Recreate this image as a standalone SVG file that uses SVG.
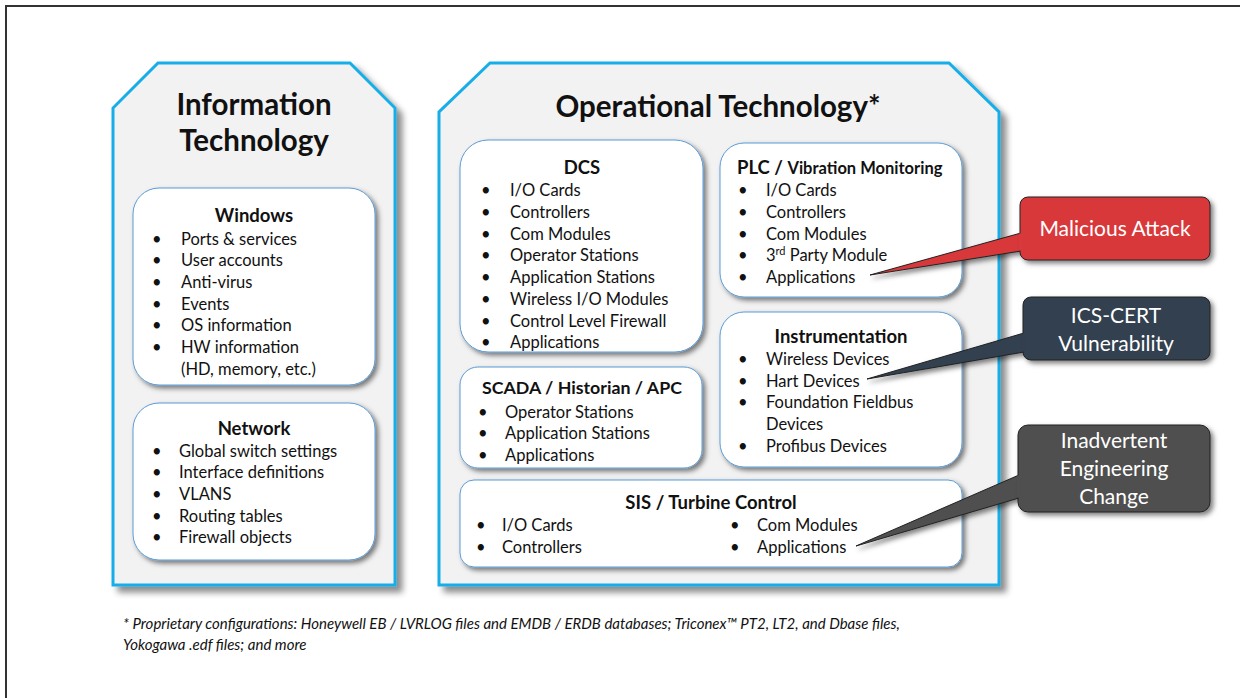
<svg xmlns="http://www.w3.org/2000/svg" width="1240" height="698" viewBox="0 0 1240 698">
<defs>
<style>
text{font-family:Lato,"Open Sans","Liberation Sans",sans-serif;fill:#111}
.ttl{font-size:29.5px;font-weight:bold;text-anchor:middle}
.hd{font-size:18.5px;font-weight:bold;text-anchor:middle}
.it{font-size:16.5px}
.co{font-size:21px;fill:#fff;text-anchor:middle}
.fn{font-size:15px;font-style:italic}
.panel{fill:#f2f2f2;stroke:#19aee9;stroke-width:3}
.box{fill:#fff;stroke:#5b9bd5;stroke-width:1}
.tail{stroke:#222;stroke-width:1}
</style>
<filter id="ps" x="-10%" y="-10%" width="125%" height="125%"><feDropShadow dx="6" dy="6" stdDeviation="3" flood-color="#000" flood-opacity="0.45"/></filter>
<filter id="bs" x="-10%" y="-10%" width="125%" height="130%"><feDropShadow dx="3" dy="3" stdDeviation="2.5" flood-color="#000" flood-opacity="0.5"/></filter>
</defs>
<rect x="6" y="6" width="1250" height="700" fill="#fff" stroke="#333" stroke-width="2"/>

<g id="it-panel">
<polygon class="panel" filter="url(#ps)" points="158,63 350,63 395,108 395,585 113,585 113,108"/>
<text class="ttl" x="254" y="115">Information</text>
<text class="ttl" x="254" y="151">Technology</text>
</g>

<g id="windows">
<rect class="box" filter="url(#bs)" x="133" y="188" width="242" height="197" rx="26"/>
<text class="hd" x="254" y="222">Windows</text>
<g class="it">
<text x="152" y="245">•</text><text x="181" y="245">Ports &amp; services</text>
<text x="152" y="266">•</text><text x="181" y="266">User accounts</text>
<text x="152" y="288">•</text><text x="181" y="288">Anti-virus</text>
<text x="152" y="310">•</text><text x="181" y="310">Events</text>
<text x="152" y="331">•</text><text x="181" y="331">OS information</text>
<text x="152" y="353">•</text><text x="181" y="353">HW information</text>
<text x="181" y="375">(HD, memory, etc.)</text>
</g>
</g>

<g id="network">
<rect class="box" filter="url(#bs)" x="133" y="403" width="242" height="157" rx="26"/>
<text class="hd" x="254" y="435">Network</text>
<g class="it">
<text x="152" y="457">•</text><text x="179" y="457">Global switch settings</text>
<text x="152" y="478">•</text><text x="179" y="478">Interface definitions</text>
<text x="152" y="500">•</text><text x="179" y="500">VLANS</text>
<text x="152" y="522">•</text><text x="179" y="522">Routing tables</text>
<text x="152" y="543">•</text><text x="179" y="543">Firewall objects</text>
</g>
</g>

<g id="ot-panel">
<polygon class="panel" filter="url(#ps)" points="490,63 949,63 999,112 999,585 439,585 439,112"/>
<text class="ttl" x="718" y="117">Operational Technology*</text>
</g>

<g id="dcs">
<rect class="box" filter="url(#bs)" x="460" y="140" width="243" height="212" rx="28"/>
<text class="hd" x="582" y="174">DCS</text>
<g class="it">
<text x="481" y="196">•</text><text x="510" y="196">I/O Cards</text>
<text x="481" y="218">•</text><text x="510" y="218">Controllers</text>
<text x="481" y="240">•</text><text x="510" y="240">Com Modules</text>
<text x="481" y="261">•</text><text x="510" y="261">Operator Stations</text>
<text x="481" y="283">•</text><text x="510" y="283">Application Stations</text>
<text x="481" y="305">•</text><text x="510" y="305">Wireless I/O Modules</text>
<text x="481" y="327">•</text><text x="510" y="327">Control Level Firewall</text>
<text x="481" y="348">•</text><text x="510" y="348">Applications</text>
</g>
</g>

<g id="plc">
<rect class="box" filter="url(#bs)" x="720" y="143" width="242" height="154" rx="24"/>
<text x="737" y="174" style="font-weight:bold;font-size:18.5px">PLC / <tspan style="font-size:16.5px">Vibration Monitoring</tspan></text>
<g class="it">
<text x="738" y="196">•</text><text x="766" y="196">I/O Cards</text>
<text x="738" y="218">•</text><text x="766" y="218">Controllers</text>
<text x="738" y="240">•</text><text x="766" y="240">Com Modules</text>
<text x="738" y="261">•</text><text x="766" y="261">3<tspan dy="-6" style="font-size:11px">rd</tspan><tspan dy="6"> Party Module</tspan></text>
<text x="738" y="283">•</text><text x="766" y="283">Applications</text>
</g>
</g>

<g id="scada">
<rect class="box" filter="url(#bs)" x="460" y="367" width="242" height="101" rx="18"/>
<text class="hd" x="582" y="394" style="font-size:17.8px">SCADA / Historian / APC</text>
<g class="it">
<text x="478" y="418">•</text><text x="505" y="418">Operator Stations</text>
<text x="478" y="439">•</text><text x="505" y="439">Application Stations</text>
<text x="478" y="461">•</text><text x="505" y="461">Applications</text>
</g>
</g>

<g id="instrumentation">
<rect class="box" filter="url(#bs)" x="720" y="312" width="242" height="155" rx="24"/>
<text class="hd" x="841" y="343">Instrumentation</text>
<g class="it">
<text x="738" y="365">•</text><text x="766" y="365">Wireless Devices</text>
<text x="738" y="387">•</text><text x="766" y="387">Hart Devices</text>
<text x="738" y="408">•</text><text x="766" y="408">Foundation Fieldbus</text>
<text x="766" y="430">Devices</text>
<text x="738" y="452">•</text><text x="766" y="452">Profibus Devices</text>
</g>
</g>

<g id="sis">
<rect class="box" filter="url(#bs)" x="460" y="480" width="502" height="87" rx="14"/>
<text class="hd" x="711" y="509">SIS / Turbine Control</text>
<g class="it">
<text x="476" y="531">•</text><text x="502" y="531">I/O Cards</text>
<text x="476" y="553">•</text><text x="502" y="553">Controllers</text>
<text x="730" y="531">•</text><text x="757" y="531">Com Modules</text>
<text x="730" y="553">•</text><text x="757" y="553">Applications</text>
</g>
</g>

<g id="connectors">
<polygon class="tail" filter="url(#bs)" fill="#d9393a" points="870,275 1021,233 1021,251"/>
<polygon class="tail" filter="url(#bs)" fill="#333f50" points="867,379 1024,333 1024,352"/>
<polygon class="tail" filter="url(#bs)" fill="#4f4f4f" points="856,546 1019,475 1019,498"/>
</g>

<g id="malicious-attack">
<rect filter="url(#bs)" x="1020" y="197" width="190" height="63" rx="8" fill="#d9393a" stroke="#222" stroke-width="1"/>
<polygon fill="#d9393a" points="1019,233.5 1023,233.5 1023,250.5 1019,250.5"/>
<text class="co" x="1115" y="236">Malicious Attack</text>
</g>

<g id="ics-cert">
<rect filter="url(#bs)" x="1023" y="297" width="187" height="63" rx="8" fill="#333f50" stroke="#222" stroke-width="1"/>
<polygon fill="#333f50" points="1022,333.5 1026,333.5 1026,351.5 1022,351.5"/>
<text class="co" x="1116" y="323">ICS-CERT</text>
<text class="co" x="1116" y="351">Vulnerability</text>
</g>

<g id="inadvertent">
<rect filter="url(#bs)" x="1018" y="425" width="192" height="87" rx="10" fill="#4f4f4f" stroke="#222" stroke-width="1"/>
<polygon fill="#4f4f4f" points="1017,475.5 1021,475.5 1021,497.5 1017,497.5"/>
<text class="co" x="1114" y="448">Inadvertent</text>
<text class="co" x="1114" y="476">Engineering</text>
<text class="co" x="1114" y="504">Change</text>
</g>

<g id="footnote">
<text class="fn" x="123" y="629">* Proprietary configurations: Honeywell EB / LVRLOG files and EMDB / ERDB databases; Triconex™ PT2, LT2, and Dbase files,</text>
<text class="fn" x="123" y="650">Yokogawa .edf files; and more</text>
</g>
</svg>
